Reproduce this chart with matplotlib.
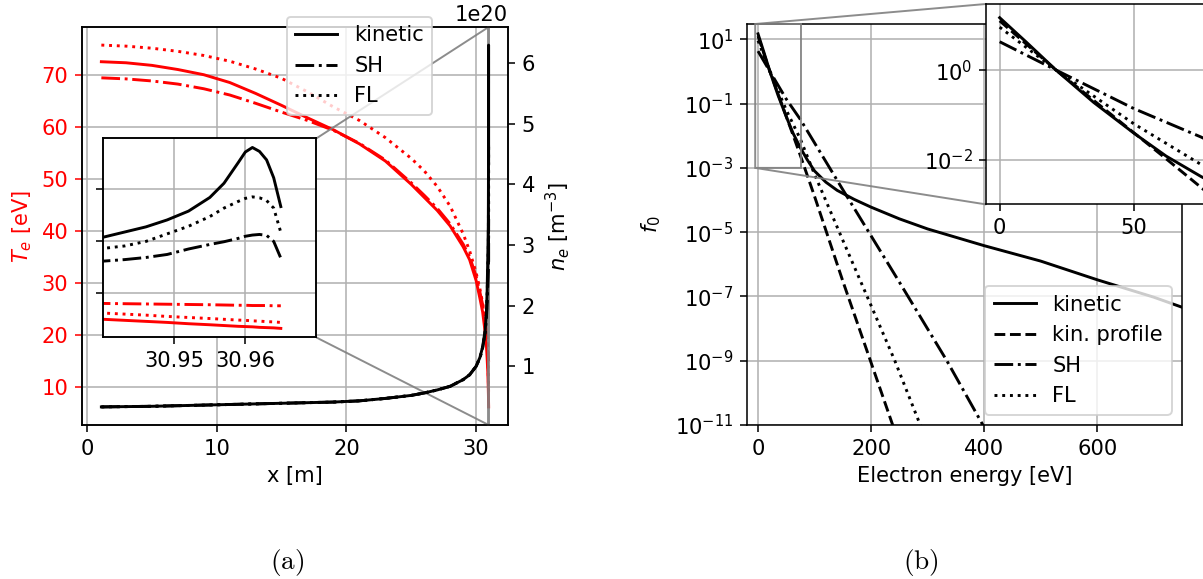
import matplotlib
matplotlib.use("Agg")
import matplotlib.pyplot as plt
import numpy as np
from matplotlib.lines import Line2D
from matplotlib.ticker import NullLocator

plt.rcParams["font.size"] = 10.8

# (a) profiles along the flux tube
x_pos = [1.1, 3, 5, 7, 9, 11, 13, 15, 17, 19, 21, 23, 25, 26, 27, 28, 29, 29.5, 30, 30.3, 30.5,
         30.7, 30.8, 30.85, 30.9,
         30.940, 30.943, 30.946, 30.949, 30.952, 30.955, 30.957, 30.959, 30.960, 30.961,
         30.962, 30.963, 30.964, 30.965]
Te_kin = [72.6, 72.4, 71.9, 71.1, 70.1, 68.6, 66.5, 64.2, 61.8, 59.5, 56.8, 53.5, 49.0, 46.5, 44.0,
          41.0, 37.0, 34.5, 30.5, 27.0, 24.5, 20.5, 17.8, 15.5, 13.0,
          9.7, 9.3, 8.9, 8.5, 8.0, 7.6, 7.3, 7.0, 6.9, 6.8, 6.6, 6.5, 6.4, 6.2]
Te_sh = [69.5, 69.3, 68.9, 68.3, 67.4, 66.2, 64.6, 62.9, 61.3, 59.4, 56.9, 53.7, 49.3, 46.9, 44.4,
         41.4, 37.5, 35.1, 31.3, 28.2, 25.9, 22.5, 20.5, 19.0, 17.5,
         15.8, 15.7, 15.6, 15.5, 15.4, 15.3, 15.2, 15.1, 15.1, 15.0, 15.0, 15.0, 14.9, 14.9]
Te_fl = [75.8, 75.6, 75.2, 74.6, 73.8, 72.7, 71.2, 69.4, 66.8, 63.9, 61.3, 58.0, 54.0, 51.6, 48.6,
         44.8, 39.5, 36.2, 32.0, 28.8, 26.2, 22.8, 20.4, 18.5, 16.0,
         12.1, 11.7, 11.3, 10.8, 10.4, 10.0, 9.7, 9.4, 9.3, 9.1, 9.0, 8.8, 8.7, 8.5]
# densities in units of 1e20 m^-3
ne_kin = [0.33, 0.335, 0.34, 0.35, 0.36, 0.37, 0.38, 0.39, 0.40, 0.41, 0.43, 0.47, 0.52, 0.56, 0.61,
          0.67, 0.78, 0.86, 1.00, 1.15, 1.32, 1.60, 1.92, 2.25, 2.80,
          3.34, 3.51, 3.68, 3.91, 4.20, 4.65, 5.12, 5.80, 6.15, 6.30, 6.17, 5.89, 5.30, 4.35]
ne_sh = [0.33, 0.335, 0.34, 0.35, 0.36, 0.37, 0.38, 0.39, 0.40, 0.41, 0.43, 0.47, 0.52, 0.56, 0.61,
         0.67, 0.78, 0.86, 1.00, 1.14, 1.30, 1.55, 1.82, 2.05, 2.35,
         2.55, 2.60, 2.67, 2.77, 2.95, 3.10, 3.19, 3.30, 3.37, 3.41, 3.43, 3.40, 3.20, 2.65]
ne_fl = [0.33, 0.335, 0.34, 0.35, 0.36, 0.37, 0.38, 0.39, 0.40, 0.41, 0.43, 0.47, 0.52, 0.56, 0.61,
         0.67, 0.78, 0.86, 1.00, 1.15, 1.31, 1.58, 1.88, 2.18, 2.60,
         2.97, 3.05, 3.20, 3.45, 3.70, 4.02, 4.30, 4.52, 4.62, 4.67, 4.64, 4.55, 4.30, 3.50]

# (b) distribution functions at the wall
E_kin = [0, 10, 21, 35, 50, 62, 75, 87, 100, 120, 140, 170, 200, 250, 300, 400, 500, 600, 700, 760]
f_kin = [14.8, 4.17, 1.0, 0.19, 0.039, 0.012, 4.2e-3, 1.8e-3, 8.0e-4, 3.6e-4, 2.0e-4, 1.05e-4,
         6.0e-5, 2.6e-5, 1.26e-5, 3.8e-6, 1.26e-6, 3.3e-7, 9.5e-8, 4.0e-8]
E_kp = [0, 21, 61, 75, 100, 150, 198, 239, 260]
f_kp = [12.6, 1.0, 1.17e-2, 2.4e-3, 1.3e-4, 3.0e-7, 1.1e-9, 9.1e-12, 7.9e-13]
E_sh = [0, 21, 50, 75, 150, 250, 334, 400]
f_sh = [4.3, 1.0, 0.138, 0.032, 2.1e-4, 2.8e-7, 1.0e-9, 8.5e-12]
E_fl = [0, 21, 50, 75, 100, 150, 200, 242, 287, 330]
f_fl = [9.1, 1.0, 0.063, 7.8e-3, 6.3e-4, 5.6e-6, 5.2e-8, 1.0e-9, 1.0e-11, 1.6e-13]

W, H = 1203, 579
fig = plt.figure(figsize=(W / 140, H / 140), dpi=140)

# ---- (a) ----
ax = fig.add_axes([82 / W, 1 - 425 / H, (508 - 82) / W, (425 - 27) / H])
ax.plot(x_pos, Te_kin, color="red", ls="-")
ax.plot(x_pos, Te_sh, color="red", ls="-.")
ax.plot(x_pos, Te_fl, color="red", ls=":")
ax.set_xticks([0, 10, 20, 30])
ax.set_xlabel("x [m]")
ax.set_ylabel("$T_e$ [eV]", color="red")
ax.tick_params(axis="y", colors="red")
ax.grid(True)

ax2 = ax.twinx()
ne = 1e20
ax2.plot(x_pos, np.array(ne_kin) * ne, color="k", ls="-")
ax2.plot(x_pos, np.array(ne_sh) * ne, color="k", ls="-.")
ax2.plot(x_pos, np.array(ne_fl) * ne, color="k", ls=":")
ax2.set_ylabel("$n_e$ [m$^{-3}$]")

handles = [Line2D([], [], color="k", ls="-", label="kinetic"),
           Line2D([], [], color="k", ls="-.", label="SH"),
           Line2D([], [], color="k", ls=":", label="FL")]
ax2.legend(handles=handles, loc="upper left", bbox_to_anchor=(287 / W, 1 - 17 / H),
           bbox_transform=fig.transFigure, borderaxespad=0)

axins = ax.inset_axes([0.05, 0.22, 0.5, 0.5])
axins.plot(x_pos, Te_kin, color="red", ls="-")
axins.plot(x_pos, Te_sh, color="red", ls="-.")
axins.plot(x_pos, Te_fl, color="red", ls=":")
axins.set_xlim(30.94, 30.97)
axins.set_ylim(ax.get_ylim())
axins.set_xticks([30.95, 30.96])
axins.ticklabel_format(axis="x", useOffset=False)
axins.tick_params(axis="y", left=False, labelleft=False)
axins.grid(True)
axins2 = axins.twinx()
axins2.plot(x_pos, np.array(ne_kin) * ne, color="k", ls="-")
axins2.plot(x_pos, np.array(ne_sh) * ne, color="k", ls="-.")
axins2.plot(x_pos, np.array(ne_fl) * ne, color="k", ls=":")
axins2.set_ylim(ax2.get_ylim())
axins2.set_yticks([])
ind_a = ax.indicate_inset_zoom(axins, edgecolor="0.5", alpha=0.9)
# connectors: lower_left, upper_left, lower_right, upper_right
for c, vis in zip(ind_a.connectors, [False, False, True, True]):
    c.set_visible(vis)

# ---- (b) ----
axb = fig.add_axes([747 / W, 1 - 425 / H, (1182 - 747) / W, (425 - 24) / H])
axb.semilogy(E_kin, f_kin, color="k", ls="-", label="kinetic")
axb.semilogy(E_kp, f_kp, color="k", ls="--", label="kin. profile")
axb.semilogy(E_sh, f_sh, color="k", ls="-.", label="SH")
axb.semilogy(E_fl, f_fl, color="k", ls=":", label="FL")
axb.set_xlim(-19.5, 750)
axb.set_ylim(1e-11, 30)
axb.set_yticks([1e1, 1e-1, 1e-3, 1e-5, 1e-7, 1e-9, 1e-11])
axb.yaxis.set_minor_locator(NullLocator())
axb.set_xlabel("Electron energy [eV]")
axb.set_ylabel("$f_0$", labelpad=6)
axb.grid(True)
axb.legend(loc="lower right")

axbi = axb.inset_axes([0.55, 0.55, 0.5, 0.5])
axbi.semilogy(E_kin, f_kin, color="k", ls="-")
axbi.semilogy(E_kp, f_kp, color="k", ls="--")
axbi.semilogy(E_sh, f_sh, color="k", ls="-.")
axbi.semilogy(E_fl, f_fl, color="k", ls=":")
axbi.set_xlim(-5, 76)
axbi.set_ylim(1e-3, 30)
axbi.set_xticks([0, 50])
axbi.set_yticks([1e-2, 1e0])
axbi.yaxis.set_minor_locator(NullLocator())
axbi.grid(True)
ind_b = axb.indicate_inset_zoom(axbi, edgecolor="0.5", alpha=0.9)
for c, vis in zip(ind_b.connectors, [True, True, False, False]):
    c.set_visible(vis)

fig.text(287 / W, 1 - 563 / H, r"$\mathrm{(a)}$", ha="center", va="center",
         fontsize=14, math_fontfamily="cm")
fig.text(921 / W, 1 - 563 / H, r"$\mathrm{(b)}$", ha="center", va="center",
         fontsize=14, math_fontfamily="cm")

fig.savefig("out.png", dpi=140)
